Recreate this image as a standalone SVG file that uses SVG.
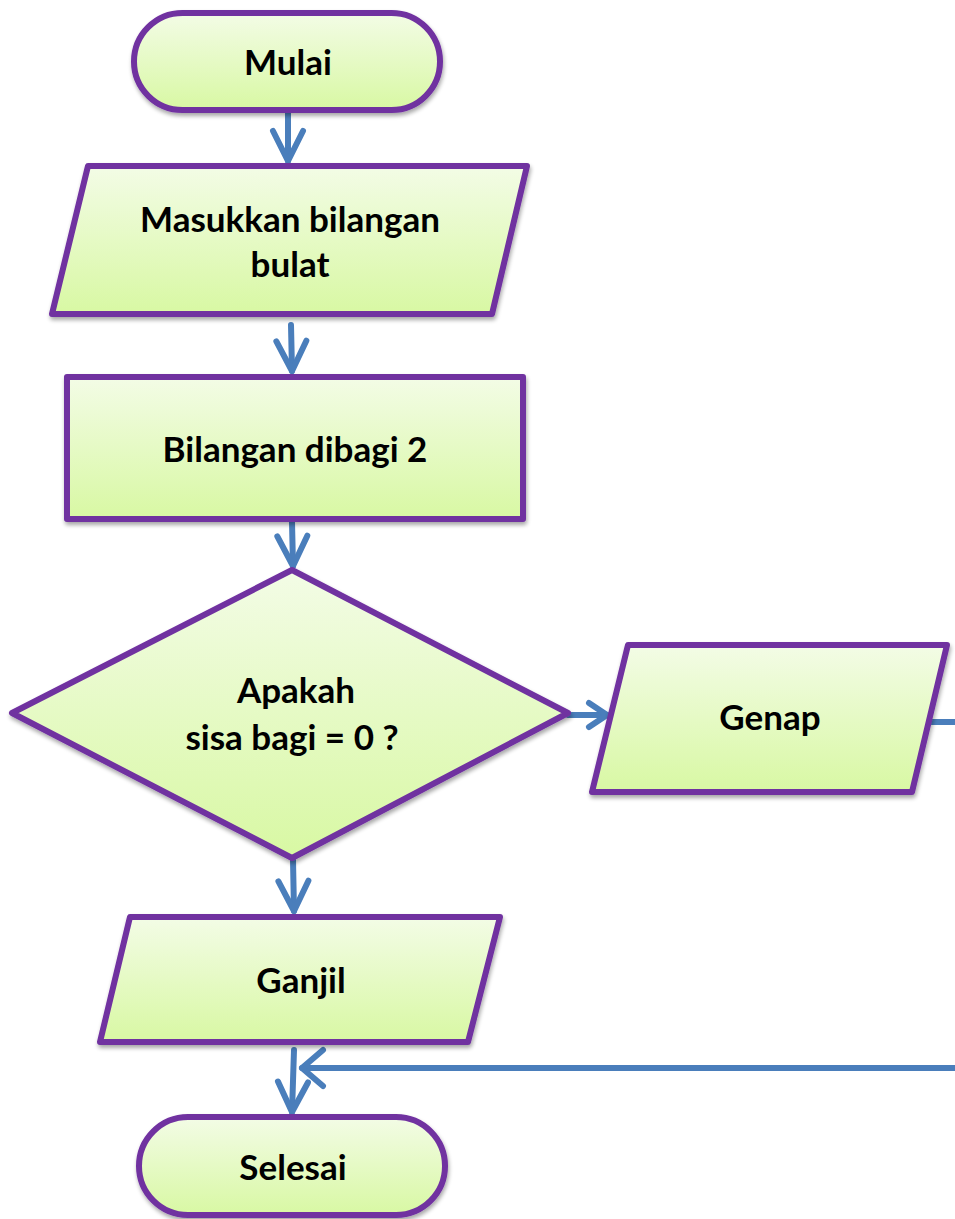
<svg xmlns="http://www.w3.org/2000/svg" width="955" height="1219" viewBox="0 0 955 1219">
<style>
.shape{fill:url(#g);stroke:#7030A0;stroke-width:6;stroke-linejoin:round;filter:url(#sh)}
.t{font-family:Lato,"Liberation Sans",sans-serif;font-weight:bold;font-size:35px;fill:#000;text-anchor:middle}
.c{fill:none;stroke:#4A7EBB;stroke-width:6;stroke-linecap:round}
</style>
<defs>
<linearGradient id="g" x1="0" y1="0" x2="0" y2="1">
<stop offset="0" stop-color="#F3FCE6"/>
<stop offset="1" stop-color="#D8F8A3"/>
</linearGradient>
<filter id="sh" x="-10%" y="-10%" width="120%" height="130%">
<feGaussianBlur in="SourceAlpha" stdDeviation="2"/>
<feOffset dx="1" dy="3" result="b"/>
<feComponentTransfer><feFuncA type="linear" slope="0.35"/></feComponentTransfer>
<feMerge><feMergeNode/><feMergeNode in="SourceGraphic"/></feMerge>
</filter>
<marker id="av" markerUnits="userSpaceOnUse" viewBox="-40 -25 50 50" markerWidth="50" markerHeight="50" refX="0" refY="0" orient="auto">
<path d="M-30,-15 L0,0 L-30,15" fill="none" stroke="#4A7EBB" stroke-width="6" stroke-linecap="round" stroke-linejoin="round"/>
</marker>
<marker id="as" markerUnits="userSpaceOnUse" viewBox="-40 -25 50 50" markerWidth="50" markerHeight="50" refX="0" refY="0" orient="auto">
<path d="M-18,-12 L0,0 L-18,12" fill="none" stroke="#4A7EBB" stroke-width="6" stroke-linecap="round" stroke-linejoin="round"/>
</marker>
<marker id="al" markerUnits="userSpaceOnUse" viewBox="-40 -25 50 50" markerWidth="50" markerHeight="50" refX="0" refY="0" orient="auto">
<path d="M-21,-18 L0,0 L-21,18" fill="none" stroke="#4A7EBB" stroke-width="6" stroke-linecap="round" stroke-linejoin="round"/>
</marker>
</defs>

<g id="connectors">
<path class="c" d="M288,112 L288,161" marker-end="url(#av)"/>
<path class="c" d="M291,325 L292,371" marker-end="url(#av)"/>
<path class="c" d="M292,522 L293,566" marker-end="url(#av)"/>
<path class="c" d="M568,715 L607,715" marker-end="url(#as)"/>
<path class="c" d="M293,860 L294,911" marker-end="url(#av)"/>
<path class="c" d="M294,1050 L292,1112" marker-end="url(#av)"/>
<path class="c" d="M922,722 L990,722 L990,1068 L302,1068" stroke-width="7" marker-end="url(#al)"/>
</g>

<g id="mulai">
<rect class="shape" x="134" y="13" width="306" height="97" rx="48.5"/>
<text class="t" x="288" y="75">Mulai</text>
</g>

<g id="input">
<polygon class="shape" points="88,166 527,166 492,314 52,314"/>
<text class="t" x="290" y="232">Masukkan bilangan</text>
<text class="t" x="290" y="277">bulat</text>
</g>

<g id="proses">
<rect class="shape" x="67" y="377" width="456" height="142"/>
<text class="t" x="295" y="462">Bilangan dibagi 2</text>
</g>

<g id="keputusan">
<polygon class="shape" points="292,570 568,713 292,858 12,713"/>
<text class="t" x="296" y="703">Apakah</text>
<text class="t" x="292" y="750">sisa bagi = 0 ?</text>
</g>

<g id="genap">
<polygon class="shape" points="628,645 947,645 912,792 592,792"/>
<text class="t" x="770" y="730">Genap</text>
</g>

<g id="ganjil">
<polygon class="shape" points="130,917 500,917 468,1042 100,1042"/>
<text class="t" x="301" y="993">Ganjil</text>
</g>

<g id="selesai">
<rect class="shape" x="139" y="1117" width="306" height="98" rx="49"/>
<text class="t" x="293" y="1180">Selesai</text>
</g>
</svg>
